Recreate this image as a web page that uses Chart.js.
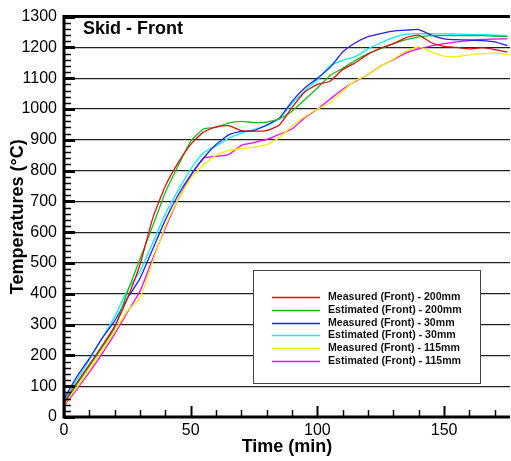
<!DOCTYPE html>
<html>
<head>
<meta charset="utf-8">
<script src="https://cdn.jsdelivr.net/npm/chart.js@4.4.0/dist/chart.umd.min.js"></script>
<style>
  html, body { margin: 0; padding: 0; background: #fff; }
  canvas { display: block; }
</style>
</head>
<body>
<canvas id="skidChart" width="511" height="461"></canvas>
<script>
// Time axis (min), one sample every 5 min
const timeMin = [0, 5, 10, 15, 20, 25, 30, 35, 40, 45, 50, 55, 60, 65, 70, 75, 80, 85,
  90, 95, 100, 105, 110, 115, 120, 125, 130, 135, 140, 145, 150, 155, 160, 165, 170, 175];

// Temperatures (°C)
const measured200 = [45, 110, 170, 230, 295, 385, 495, 645, 750, 825, 885, 925, 942, 946, 930, 928, 930, 948,
  1005, 1055, 1080, 1090, 1128, 1150, 1178, 1198, 1212, 1232, 1240, 1215, 1203, 1200, 1195, 1199, 1193, 1185];
const estimated200 = [45, 105, 165, 225, 290, 405, 514, 620, 730, 815, 895, 935, 940, 955, 960, 956, 957, 968,
  993, 1030, 1068, 1109, 1132, 1158, 1180, 1196, 1212, 1225, 1234, 1238, 1238, 1238, 1238, 1238, 1237, 1235];
const measured30 = [58, 130, 190, 255, 312, 385, 450, 545, 640, 720, 785, 840, 885, 916, 927, 930, 948, 970,
  1025, 1068, 1100, 1135, 1185, 1215, 1235, 1245, 1253, 1256, 1258, 1240, 1228, 1225, 1224, 1222, 1218, 1206];
const estimated30 = [50, 120, 185, 255, 325, 412, 473, 565, 660, 735, 805, 858, 880, 905, 922, 934, 946, 970,
  1018, 1058, 1095, 1140, 1158, 1170, 1195, 1215, 1232, 1243, 1245, 1244, 1244, 1243, 1242, 1241, 1240, 1238];
const measured115 = [40, 95, 155, 215, 278, 345, 386, 505, 620, 705, 775, 818, 849, 866, 871, 876, 884, 907,
  945, 975, 1000, 1020, 1058, 1092, 1112, 1140, 1162, 1188, 1202, 1185, 1172, 1170, 1176, 1180, 1182, 1176];
const estimated115 = [35, 90, 145, 205, 270, 340, 408, 514, 614, 705, 783, 840, 846, 852, 882, 891, 901, 918,
  935, 972, 1000, 1032, 1064, 1090, 1112, 1140, 1160, 1182, 1195, 1205, 1212, 1218, 1222, 1226, 1227, 1228];

const seriesLabels = [
  'Measured (Front) - 200mm',
  'Estimated (Front) - 200mm',
  'Measured (Front) - 30mm',
  'Estimated (Front) - 30mm',
  'Measured (Front) - 115mm',
  'Estimated (Front) - 115mm'
];
const seriesValues = [measured200, estimated200, measured30, estimated30, measured115, estimated115];
const seriesColors = ['#dd1111', '#11c011', '#2222ff', '#00f0f0', '#f0f000', '#ff00ff'];

const FONT = "'Liberation Sans', Arial, Helvetica, sans-serif";

function toPoints(values) {
  return values.map((v, i) => ({ x: timeMin[i], y: v }));
}

// Frame and inward tick marks
const frameTicks = {
  id: 'frameTicks',
  afterDatasetsDraw(chart) {
    const { ctx, chartArea: a, scales } = chart;
    ctx.save();
    ctx.strokeStyle = '#000';

    // y ticks
    for (let v = 0; v <= 1300; v += 20) {
      const y = Math.round(scales.y.getPixelForValue(v)) + 0.5;
      const major = v % 100 === 0;
      ctx.lineWidth = major ? 3 : 1.5;
      ctx.beginPath();
      ctx.moveTo(a.left, y);
      ctx.lineTo(a.left + (major ? 11 : 7), y);
      ctx.stroke();
    }
    // x ticks
    for (let t = 0; t <= 170; t += 10) {
      const x = Math.round(scales.x.getPixelForValue(t)) + 0.5;
      const major = t % 50 === 0;
      ctx.lineWidth = major ? 2 : 1.5;
      ctx.beginPath();
      ctx.moveTo(x, a.bottom);
      ctx.lineTo(x, a.bottom - (major ? 11 : 7));
      ctx.stroke();
    }

    // thick frame
    ctx.lineWidth = 3;
    ctx.beginPath();
    ctx.moveTo(a.right, a.top);
    ctx.lineTo(a.left, a.top);
    ctx.lineTo(a.left, a.bottom);
    ctx.lineTo(a.right, a.bottom);
    ctx.stroke();

    // inner title
    ctx.fillStyle = '#000';
    ctx.font = 'bold 18px ' + FONT;
    ctx.textAlign = 'left';
    ctx.textBaseline = 'middle';
    ctx.fillText('Skid - Front', 83, 29);
    ctx.restore();
  }
};

// Boxed legend in the lower right of the plot
const boxLegend = {
  id: 'boxLegend',
  afterDraw(chart) {
    const { ctx } = chart;
    const box = { x: 253, y: 270, w: 227, h: 113 };
    ctx.save();
    ctx.fillStyle = '#fff';
    ctx.fillRect(box.x, box.y, box.w, box.h);
    ctx.strokeStyle = '#444';
    ctx.lineWidth = 1;
    ctx.strokeRect(box.x + 0.5, box.y + 0.5, box.w, box.h);

    ctx.font = 'bold 10.6px ' + FONT;
    ctx.textBaseline = 'middle';
    ctx.textAlign = 'left';
    chart.data.datasets.forEach((ds, i) => {
      const y = box.y + 27 + i * 12.8;
      ctx.strokeStyle = ds.borderColor;
      ctx.lineWidth = 1.5;
      ctx.beginPath();
      ctx.moveTo(272, Math.round(y) + 0.5);
      ctx.lineTo(320, Math.round(y) + 0.5);
      ctx.stroke();
      ctx.fillStyle = '#111';
      ctx.fillText(ds.label, 328, y);
    });
    ctx.restore();
  }
};

const ctx = document.getElementById('skidChart').getContext('2d');
const skidChart = new Chart(ctx, {
  type: 'line',
  data: {
    datasets: seriesLabels.map((label, i) => ({
      label: label,
      data: toPoints(seriesValues[i]),
      borderColor: seriesColors[i],
      backgroundColor: seriesColors[i],
      borderWidth: 1.3,
      pointRadius: 0,
      tension: 0.15,
      fill: false
    }))
  },
  options: {
    responsive: false,
    animation: false,
    devicePixelRatio: 1,
    layout: { padding: { top: 13, right: 1, left: 0, bottom: 0 } },
    plugins: {
      legend: { display: false },
      tooltip: { enabled: false }
    },
    scales: {
      x: {
        type: 'linear',
        min: 0,
        max: 176,
        afterFit(scale) { scale.height = 44; },
        afterBuildTicks(scale) {
          scale.ticks = [0, 50, 100, 150].map(v => ({ value: v }));
        },
        ticks: {
          color: '#000',
          font: { family: FONT, size: 16 },
          padding: 4,
          maxRotation: 0,
          autoSkip: false,
          callback: v => String(v)
        },
        grid: { display: false, drawTicks: false, tickLength: 0 },
        border: { display: false },
        title: {
          display: true,
          text: 'Time (min)',
          color: '#000',
          font: { family: FONT, size: 18, weight: 'bold' },
          padding: { top: 0, bottom: 3 }
        }
      },
      y: {
        min: 0,
        max: 1300,
        afterFit(scale) { scale.width = 64; },
        ticks: {
          stepSize: 100,
          color: '#000',
          font: { family: FONT, size: 16 },
          padding: 7,
          callback: v => String(v)
        },
        grid: { color: '#222', lineWidth: 1.2, drawTicks: false },
        border: { display: false },
        title: {
          display: true,
          text: 'Temperatures (°C)',
          color: '#000',
          font: { family: FONT, size: 18, weight: 'bold' },
          padding: { top: 7, bottom: 0 }
        }
      }
    }
  },
  plugins: [frameTicks, boxLegend]
});
</script>
</body>
</html>
